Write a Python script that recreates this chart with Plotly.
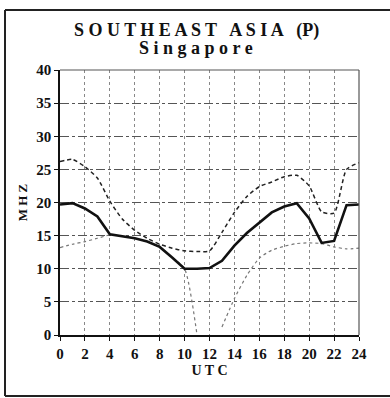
import plotly.graph_objects as go

hours = list(range(25))
upper_dashed = [26.2, 26.5, 25.4, 23.7, 20.2, 17.5, 15.8, 14.6, 13.7, 13.1, 12.7, 12.6, 12.7,
                15.5, 18.5, 20.9, 22.4, 23.1, 23.9, 24.1, 22.5, 18.6, 18.4, 25.0, 26.0]
main_solid = [19.7, 19.9, 19.1, 17.9, 15.2, 14.9, 14.6, 14.1, 13.3, 11.7, 10.0, 10.0, 10.1,
              11.2, 13.5, 15.4, 17.0, 18.5, 19.4, 19.9, 17.6, 13.9, 14.2, 19.6, 19.7]
lower_dotted = [13.2, 13.7, 14.1, 14.6, 15.1, 14.9, 14.6, 14.1, 13.3, 11.7, 10.0, 0.0, None,
                1.2, 5.5, 9.0, 11.6, 12.8, 13.4, 13.8, 13.9, 13.8, 13.3, 13.0, 13.1]
x_ticks = list(range(0, 25, 2))
y_ticks = list(range(0, 41, 5))

W, H = 390, 398
L, R, T, B = 60, 359, 70, 335

fig = go.Figure()
fig.add_trace(go.Scatter(x=hours, y=lower_dotted, mode="lines",
                         line=dict(color="#777777", width=1.2, dash="dot", shape="spline", smoothing=0.6),
                         connectgaps=False, showlegend=False))
fig.add_trace(go.Scatter(x=hours, y=upper_dashed, mode="lines",
                         line=dict(color="#222222", width=1.5, dash="4px,3px", shape="spline", smoothing=0.6),
                         showlegend=False))
fig.add_trace(go.Scatter(x=hours, y=main_solid, mode="lines",
                         line=dict(color="#111111", width=2.6),
                         showlegend=False))

font_fam = "Liberation Serif, Times New Roman, serif"

fig.update_layout(
    width=W, height=H,
    margin=dict(l=L, r=W - R, t=T, b=H - B),
    paper_bgcolor="white", plot_bgcolor="white",
    font=dict(family=font_fam, color="#111111"),
    xaxis=dict(range=[0, 24], tickmode="array", tickvals=x_ticks,
               ticktext=[str(v) for v in x_ticks],
               showgrid=True, gridcolor="#888888", griddash="dot", gridwidth=1,
               showline=True, linecolor="#111111", linewidth=1.5, mirror=False,
               ticks="outside", ticklen=4, tickcolor="#111111",
               tickfont=dict(size=15, family=font_fam, weight="bold"),
               title=dict(text="U T C", font=dict(size=14, family=font_fam, weight="bold"), standoff=4),
               zeroline=False, fixedrange=True),
    yaxis=dict(range=[0, 40], tickmode="array", tickvals=y_ticks,
               ticktext=[str(v) for v in y_ticks],
               showgrid=True, gridcolor="#555555", griddash="dashdot", gridwidth=1,
               showline=True, linecolor="#111111", linewidth=1.5, mirror=False,
               ticks="outside", ticklen=4, tickcolor="#111111",
               tickfont=dict(size=15, family=font_fam, weight="bold"),
               title=dict(text="M H Z", font=dict(size=13, family=font_fam, weight="bold"), standoff=6),
               zeroline=False, fixedrange=True),
)

# plot area top/right border
fig.add_shape(type="line", xref="paper", yref="paper", x0=0, x1=1, y0=1, y1=1,
              line=dict(color="#555555", width=1.2))
fig.add_shape(type="line", xref="paper", yref="paper", x0=1, x1=1, y0=0, y1=1,
              line=dict(color="#555555", width=1.2))

# outer frame (left, top, bottom)
def px_x(p):
    return (p - L) / (R - L)

def px_y(p):
    return (B - p) / (B - T)

fig.add_shape(type="line", xref="paper", yref="paper", x0=px_x(5), x1=px_x(390), y0=px_y(10), y1=px_y(10),
              line=dict(color="#222222", width=2))
fig.add_shape(type="line", xref="paper", yref="paper", x0=px_x(5), x1=px_x(5), y0=px_y(10), y1=px_y(396),
              line=dict(color="#222222", width=2))
fig.add_shape(type="line", xref="paper", yref="paper", x0=px_x(5), x1=px_x(390), y0=px_y(396), y1=px_y(396),
              line=dict(color="#222222", width=2))

fig.add_annotation(text="S O U T H E A S T   A S I A   (P)", xref="paper", yref="paper",
                   x=px_x(196), y=px_y(30), xanchor="center", yanchor="middle", showarrow=False,
                   font=dict(size=18, family=font_fam, weight="bold"))
fig.add_annotation(text="S i n g a p o r e", xref="paper", yref="paper",
                   x=px_x(196), y=px_y(48), xanchor="center", yanchor="middle", showarrow=False,
                   font=dict(size=18, family=font_fam, weight="bold"))

fig.write_html("out.html", config={"displayModeBar": False},
               post_script="document.body.style.margin='0';document.body.style.padding='0';")
